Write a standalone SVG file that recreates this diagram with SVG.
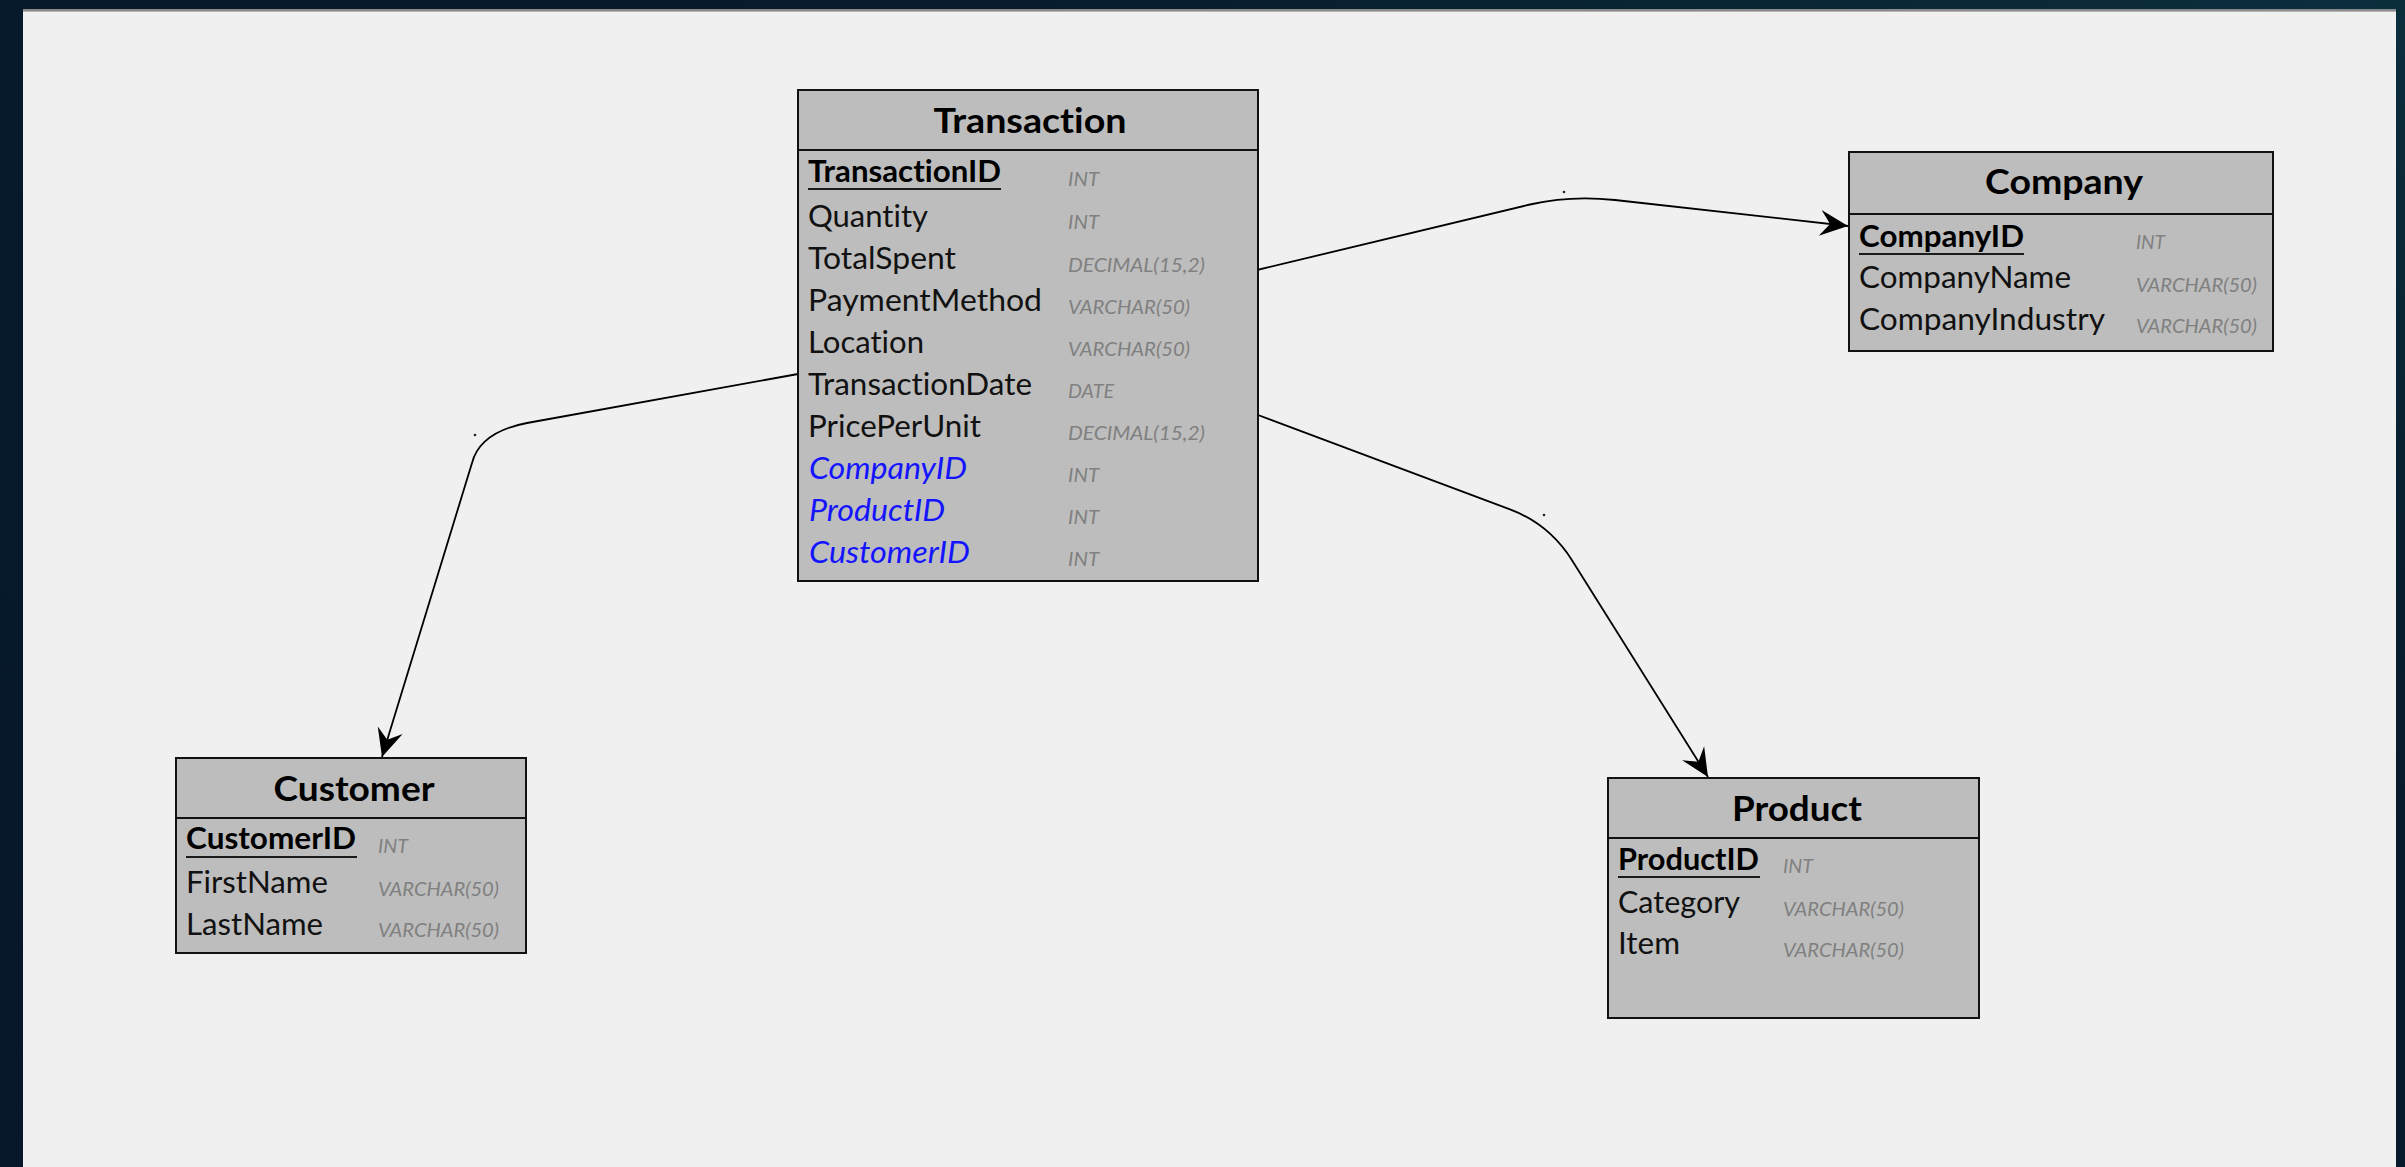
<svg xmlns="http://www.w3.org/2000/svg" width="2405" height="1167" viewBox="0 0 2405 1167">
  <defs>
    <linearGradient id="frameGrad" x1="0" y1="1" x2="1" y2="0">
      <stop offset="0" stop-color="#06172a"/>
      <stop offset="0.7" stop-color="#071b2c"/>
      <stop offset="1" stop-color="#0b2e3d"/>
    </linearGradient>
    <!-- filled barbed arrowhead, tip at the path end -->
    <marker id="arrow" markerUnits="userSpaceOnUse" viewBox="-30 -15 32 30" markerWidth="32" markerHeight="30" refX="0" refY="0" orient="auto">
      <path d="M0,0 L-28,-13 L-18,0 L-28,13 Z" fill="#000"/>
    </marker>
    <style>
      text { font-variant-ligatures: none; font-feature-settings: "liga" 0, "clig" 0; }
      .box { fill: #bdbdbd; stroke: #111; stroke-width: 2; }
      .sep { stroke: #111; stroke-width: 2; }
      .title { font-family: Lato, "Liberation Sans", sans-serif; font-weight: bold; font-size: 35px; fill: #000; text-anchor: middle; }
      .col { font-family: Lato, "Liberation Sans", sans-serif; font-size: 30px; fill: #111; }
      .pk { font-family: Lato, "Liberation Sans", sans-serif; font-size: 30px; font-weight: bold; fill: #000; }
      .fk { font-family: Lato, "Liberation Sans", sans-serif; font-size: 30px; font-style: italic; fill: #1414ff; }
      .type { font-family: Lato, "Liberation Sans", sans-serif; font-size: 19px; font-style: italic; fill: #808080; }
      .uline { stroke: #1a1a1a; stroke-width: 2; }
      .link { fill: none; stroke: #000; stroke-width: 1.8; marker-end: url(#arrow); }
      .handle { fill: #222; }
    </style>
  </defs>

  <!-- window frame and canvas -->
  <rect x="0" y="0" width="2405" height="1167" fill="url(#frameGrad)"/>
  <rect x="23" y="9" width="2373" height="1158" fill="#f0f0f0"/>
  <rect x="23" y="9" width="2373" height="2" fill="#8a8a8a"/>
  <rect x="23" y="11" width="2373" height="1" fill="#b4b4b4"/>

  <!-- relationships -->
  <g id="connectors">
    <path class="link" d="M1257,270 L1530,204.5 Q1571,195 1615,200 L1848,226"/>
    <path class="link" d="M798,374 L527,423 Q480,432 472,463 L382,757"/>
    <path class="link" d="M1258,415 L1510,509.4 Q1549,524 1572,560.2 L1708,777"/>
    <circle class="handle" cx="1564" cy="192" r="1.3"/>
    <circle class="handle" cx="475" cy="435" r="1.3"/>
    <circle class="handle" cx="1544" cy="515" r="1.3"/>
  </g>

  <!-- Transaction table -->
  <g id="transaction">
    <rect class="box" x="798" y="90" width="460" height="491"/>
    <line class="sep" x1="798" y1="150" x2="1258" y2="150"/>
    <text class="title" x="1030" y="133" textLength="193" lengthAdjust="spacingAndGlyphs">Transaction</text>
    <text class="pk" x="808" y="182" textLength="193" lengthAdjust="spacingAndGlyphs">TransactionID</text>
    <line class="uline" x1="808" y1="189" x2="1001" y2="189"/>
    <text class="col" x="808" y="227" textLength="120" lengthAdjust="spacingAndGlyphs">Quantity</text>
    <text class="col" x="808" y="269" textLength="148" lengthAdjust="spacingAndGlyphs">TotalSpent</text>
    <text class="col" x="808" y="311" textLength="234" lengthAdjust="spacingAndGlyphs">PaymentMethod</text>
    <text class="col" x="808" y="353" textLength="116" lengthAdjust="spacingAndGlyphs">Location</text>
    <text class="col" x="808" y="395" textLength="224" lengthAdjust="spacingAndGlyphs">TransactionDate</text>
    <text class="col" x="808" y="437" textLength="173" lengthAdjust="spacingAndGlyphs">PricePerUnit</text>
    <text class="fk" x="809" y="479" textLength="158" lengthAdjust="spacingAndGlyphs">CompanyID</text>
    <text class="fk" x="809" y="521" textLength="136" lengthAdjust="spacingAndGlyphs">ProductID</text>
    <text class="fk" x="809" y="563" textLength="161" lengthAdjust="spacingAndGlyphs">CustomerID</text>
    <text class="type" x="1068" y="186" textLength="31" lengthAdjust="spacingAndGlyphs">INT</text>
    <text class="type" x="1068" y="229" textLength="31" lengthAdjust="spacingAndGlyphs">INT</text>
    <text class="type" x="1068" y="272" textLength="137" lengthAdjust="spacingAndGlyphs">DECIMAL(15,2)</text>
    <text class="type" x="1068" y="314" textLength="122" lengthAdjust="spacingAndGlyphs">VARCHAR(50)</text>
    <text class="type" x="1068" y="356" textLength="122" lengthAdjust="spacingAndGlyphs">VARCHAR(50)</text>
    <text class="type" x="1068" y="398" textLength="46" lengthAdjust="spacingAndGlyphs">DATE</text>
    <text class="type" x="1068" y="440" textLength="137" lengthAdjust="spacingAndGlyphs">DECIMAL(15,2)</text>
    <text class="type" x="1068" y="482" textLength="31" lengthAdjust="spacingAndGlyphs">INT</text>
    <text class="type" x="1068" y="524" textLength="31" lengthAdjust="spacingAndGlyphs">INT</text>
    <text class="type" x="1068" y="566" textLength="31" lengthAdjust="spacingAndGlyphs">INT</text>
  </g>

  <!-- Company table -->
  <g id="company">
    <rect class="box" x="1849" y="152" width="424" height="199"/>
    <line class="sep" x1="1849" y1="214" x2="2273" y2="214"/>
    <text class="title" x="2064" y="194" textLength="158" lengthAdjust="spacingAndGlyphs">Company</text>
    <text class="pk" x="1859" y="247" textLength="165" lengthAdjust="spacingAndGlyphs">CompanyID</text>
    <line class="uline" x1="1859" y1="254" x2="2024" y2="254"/>
    <text class="col" x="1859" y="288" textLength="212" lengthAdjust="spacingAndGlyphs">CompanyName</text>
    <text class="col" x="1859" y="330" textLength="246" lengthAdjust="spacingAndGlyphs">CompanyIndustry</text>
    <text class="type" x="2136" y="249" textLength="29" lengthAdjust="spacingAndGlyphs">INT</text>
    <text class="type" x="2136" y="292" textLength="121" lengthAdjust="spacingAndGlyphs">VARCHAR(50)</text>
    <text class="type" x="2136" y="333" textLength="121" lengthAdjust="spacingAndGlyphs">VARCHAR(50)</text>
  </g>

  <!-- Customer table -->
  <g id="customer">
    <rect class="box" x="176" y="758" width="350" height="195"/>
    <line class="sep" x1="176" y1="818" x2="526" y2="818"/>
    <text class="title" x="354" y="801" textLength="161" lengthAdjust="spacingAndGlyphs">Customer</text>
    <text class="pk" x="186" y="849" textLength="170" lengthAdjust="spacingAndGlyphs">CustomerID</text>
    <line class="uline" x1="186" y1="857" x2="357" y2="857"/>
    <text class="col" x="186" y="893" textLength="142" lengthAdjust="spacingAndGlyphs">FirstName</text>
    <text class="col" x="186" y="935" textLength="137" lengthAdjust="spacingAndGlyphs">LastName</text>
    <text class="type" x="378" y="853" textLength="30" lengthAdjust="spacingAndGlyphs">INT</text>
    <text class="type" x="378" y="896" textLength="121" lengthAdjust="spacingAndGlyphs">VARCHAR(50)</text>
    <text class="type" x="378" y="937" textLength="121" lengthAdjust="spacingAndGlyphs">VARCHAR(50)</text>
  </g>

  <!-- Product table -->
  <g id="product">
    <rect class="box" x="1608" y="778" width="371" height="240"/>
    <line class="sep" x1="1608" y1="838" x2="1979" y2="838"/>
    <text class="title" x="1797" y="821" textLength="130" lengthAdjust="spacingAndGlyphs">Product</text>
    <text class="pk" x="1618" y="870" textLength="141" lengthAdjust="spacingAndGlyphs">ProductID</text>
    <line class="uline" x1="1618" y1="877" x2="1760" y2="877"/>
    <text class="col" x="1618" y="913" textLength="122" lengthAdjust="spacingAndGlyphs">Category</text>
    <text class="col" x="1618" y="954" textLength="62" lengthAdjust="spacingAndGlyphs">Item</text>
    <text class="type" x="1783" y="873" textLength="30" lengthAdjust="spacingAndGlyphs">INT</text>
    <text class="type" x="1783" y="916" textLength="121" lengthAdjust="spacingAndGlyphs">VARCHAR(50)</text>
    <text class="type" x="1783" y="957" textLength="121" lengthAdjust="spacingAndGlyphs">VARCHAR(50)</text>
  </g>
</svg>
